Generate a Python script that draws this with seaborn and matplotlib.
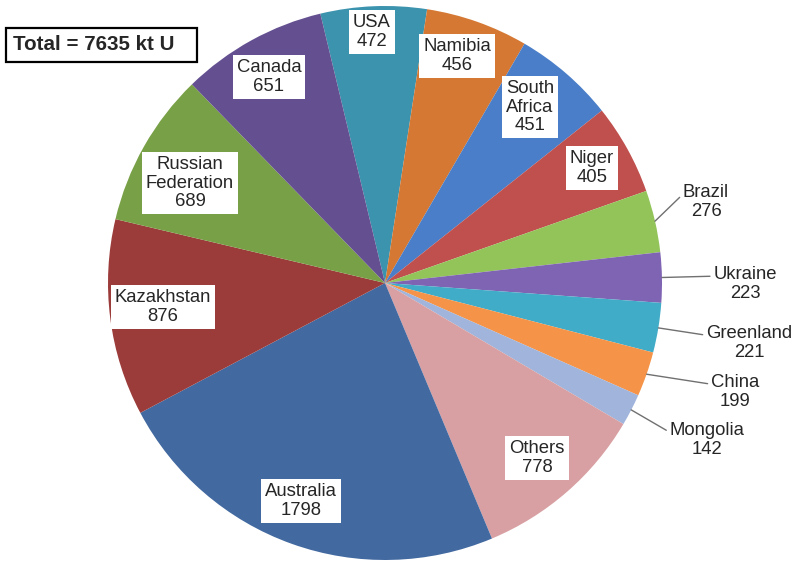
import numpy as np
import matplotlib.pyplot as plt
import matplotlib.patches as mpatches
import seaborn as sns

# uranium resources by country, kt U (clockwise from the top)
countries = ["USA", "Namibia", "South\nAfrica", "Niger", "Brazil", "Ukraine", "Greenland",
             "China", "Mongolia", "Others", "Australia", "Kazakhstan", "Russian\nFederation", "Canada"]
resources = [472, 456, 451, 405, 276, 223, 221, 199, 142, 778, 1798, 876, 689, 651]
colors = ["#3C93AE", "#D47834", "#4A7EC8", "#C0504D", "#92C45A", "#8064B4", "#40ACC8",
          "#F59448", "#A0B4DC", "#D8A0A2", "#4269A0", "#9C3C3A", "#78A046", "#645091"]
total_label = "Total = 7635 kt U"

# label centres in image pixels (x, y from top)
label_pos = [(372, 32), (457, 56), (530, 107), (592, 168), (706, 202), (745, 284), (749, 343),
             (735, 392), (707, 440), (537, 458), (301, 501), (163, 307), (190, 183), (269, 77)]
outside = {"Brazil", "Ukraine", "Greenland", "China", "Mongolia"}

sns.set_theme(style="white")
plt.rcParams['font.family'] = ['Liberation Sans', 'DejaVu Sans']

W, H = 795, 562
fig = plt.figure(figsize=(7.95, 5.62), dpi=100)
ax = fig.add_axes([0, 0, 1, 1])

cx, cy, r = 385, H - 283, 277
wedges, _ = ax.pie(resources, colors=sns.color_palette(colors), startangle=103.5,
                   counterclock=False, center=(cx, cy), radius=r, frame=True,
                   wedgeprops=dict(linewidth=0))

ax.set_xlim(0, W)
ax.set_ylim(0, H)
ax.set_aspect('equal')
ax.axis('off')

for w, name, val, (px, py) in zip(wedges, countries, resources, label_pos):
    txt = f"{name}\n{val}"
    ty = H - py
    if name in outside:
        ang = np.deg2rad((w.theta1 + w.theta2) / 2)
        ex, ey = cx + r * np.cos(ang), cy + r * np.sin(ang)
        ax.annotate(txt, xy=(ex, ey), xytext=(px, ty), ha='center', va='center',
                    fontsize=13.3, linespacing=1.12,
                    arrowprops=dict(arrowstyle='-', color='#707070', lw=1,
                                    relpos=(0, 0.72), shrinkA=0, shrinkB=0))
    else:
        ax.text(px, ty, txt, ha='center', va='center', fontsize=13.3, linespacing=1.12,
                bbox=dict(boxstyle='square,pad=0.22', facecolor='white', edgecolor='none'))

# total box
ax.add_patch(mpatches.Rectangle((6, H - 62), 191, 34, facecolor='white',
                                edgecolor='black', linewidth=1.6, zorder=5))
ax.text(13, H - 45, total_label, ha='left', va='center', fontsize=14.8,
        fontweight='bold', zorder=6)

fig.savefig('out.png', dpi=100)
